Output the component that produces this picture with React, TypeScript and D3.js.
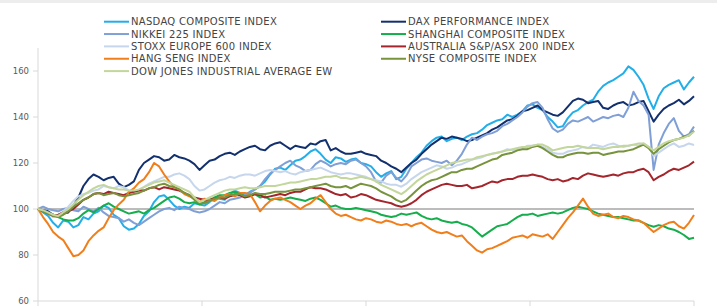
import * as d3 from "d3";

const w = 717;
const h = 307;
const left = 38;
const right = 694;
const top = 48;
const bottom = 301;

// rebased index levels (start = 100), sampled evenly across the period
const nasdaq = [100, 98.5, 97, 94, 92, 95, 94.5, 92, 93, 96.5, 95.5, 98, 99, 101.5, 100.5, 97.5, 96, 92.5, 91, 91.5, 93.5, 97, 99, 103, 105.5, 106, 104, 101.5, 100, 101, 100.5, 102.5, 102, 101.5, 103, 105, 104.5, 104, 106.5, 108, 107, 106, 107.5, 108.5, 110, 112, 115, 117.5, 118, 117, 119, 121, 121.5, 123, 125, 126, 124, 121.5, 120, 122.5, 122, 120.5, 121.5, 122, 120, 119.5, 118.5, 116, 114, 115.5, 116.5, 113, 114, 117.5, 120, 122.5, 124.5, 127.5, 129.5, 131, 131.5, 129.5, 130.5, 131, 130, 131.5, 132.5, 133, 134.5, 136.5, 137.5, 138.5, 139, 141, 140, 141, 142.5, 145, 145.5, 144, 143, 140, 138, 135.5, 136, 139.5, 142, 143, 145, 146.5, 147.5, 151, 153.5, 155, 156, 157.5, 159, 162, 160.5, 157.5, 154, 148, 143.5, 149, 152.5, 154, 155, 156, 152, 155, 157.5];
const dax = [100, 99.5, 99, 97.5, 97, 98, 98.5, 101.5, 105, 110, 113, 115, 114, 112.5, 113.5, 114, 111, 109.5, 110.5, 112, 117, 120, 121.5, 123, 122.5, 121, 121.5, 123.5, 122.5, 122, 121, 119.5, 117, 119, 121, 121.5, 123, 124, 124.5, 123.5, 125, 126, 127, 127.5, 126, 125.5, 127.5, 128.5, 129, 127.5, 126, 127.5, 127, 126.5, 128.5, 128, 129.5, 130, 125.5, 126.5, 125, 124, 124, 124.5, 125, 124, 123.5, 123, 121, 120, 118.5, 117.5, 116, 118, 120, 121.5, 124, 126, 128, 129.5, 131, 130.5, 131.5, 131, 130.5, 129.5, 130, 131, 132, 133, 134.5, 135.5, 137, 138.5, 139, 140.5, 142.5, 143, 144, 145, 143, 142, 141, 140.5, 142, 144.5, 147, 148, 147.5, 146, 146.5, 147, 144, 143.5, 145, 146, 146.5, 145, 145.5, 146.5, 147, 142.5, 138, 141, 143.5, 145, 146, 147.5, 145.5, 147, 149];
const nikkei = [100, 101, 100, 99.5, 99, 100, 100.5, 99.5, 99, 101, 100, 99, 100.5, 98.5, 97, 96.5, 96, 94.5, 95.5, 94, 93, 94.5, 96, 97.5, 99, 100, 100.5, 99.5, 101, 100.5, 100, 99, 98.5, 99, 100, 101.5, 103, 102.5, 104, 104.5, 105, 106, 107, 108.5, 110, 113, 115.5, 117, 118.5, 120, 121, 119, 118, 116.5, 117, 119.5, 121, 120, 118.5, 119.5, 120, 119.5, 121, 121.5, 120, 118.5, 116, 112, 111.5, 114.5, 116, 113.5, 112, 114.5, 118.5, 120, 121.5, 122, 121, 120.5, 120, 121, 119, 121, 124, 128, 131, 130, 131.5, 132.5, 133, 134, 136, 137, 138.5, 140, 142, 144.5, 146, 146.5, 144, 139, 135, 133.5, 134.5, 137, 138.5, 138, 139, 140, 138, 139, 140, 139.5, 140.5, 141, 140, 144, 151, 147, 145, 141, 117, 128, 133, 137, 139.5, 134, 131.5, 132.5, 135.8];
const shanghai = [100, 99, 98, 97.5, 96.5, 95.5, 95, 95, 96, 98, 99.5, 98.5, 100, 101.5, 102.5, 101, 100, 99, 98, 98.5, 99, 98, 99.5, 100.5, 102, 103.5, 105, 105.5, 104.5, 103, 102.5, 103, 102, 103, 104, 105, 106, 106, 107, 107.5, 106.5, 105.5, 106, 106.5, 105, 105.5, 104, 104.5, 104, 104.5, 105, 104.5, 104, 103.5, 104.5, 105, 104, 102.5, 101, 101.5, 100.5, 100, 100, 100.5, 100, 99.5, 99, 98.5, 97.5, 97, 96.5, 97, 98, 97.5, 98, 98.5, 97, 96, 95.5, 96, 95, 94.5, 94, 94.5, 93.5, 93, 92, 90, 88, 89.5, 91, 92.5, 93, 93.5, 95, 96.5, 97.5, 97.5, 98, 97, 97.5, 98, 98.5, 98, 98.5, 99.5, 100.5, 101, 100.5, 100, 99, 98, 97.5, 97, 96.5, 96.5, 96, 95.5, 95, 95, 94, 93, 92.3, 93, 92.5, 91.5, 91, 90, 88.7, 87, 87.5];
const stoxx = [100, 99, 98, 96.5, 97, 99, 101, 103.5, 105.5, 106.5, 107, 108, 108.5, 110, 109.5, 109, 110, 109.5, 108, 107.5, 108, 109.5, 111, 112, 113, 114, 114, 115, 115.5, 114.5, 113, 110, 108, 108.5, 110, 111.5, 112.5, 113, 114, 113.5, 114.5, 115, 115, 114.5, 115.5, 116.5, 117, 116.5, 116, 116.5, 115.5, 115, 116, 116.5, 117, 117.5, 118, 117, 116, 115.5, 115, 115.5, 115.5, 115, 114.5, 114, 113, 112.5, 112, 111, 110.5, 110.5, 109.7, 111, 113, 114.5, 116, 117, 118, 119, 118.5, 117.5, 118, 119, 119.5, 120.5, 121.5, 122, 122.5, 123.5, 124, 124.5, 125, 126, 125.5, 126, 126.5, 127.5, 127.5, 128, 127, 126, 124.5, 124, 124, 125, 125.5, 126, 127, 126.5, 128, 127.5, 127, 128, 128.5, 127.5, 127, 127.5, 128, 127.5, 128.5, 127, 123, 124.5, 126, 127.5, 128.5, 127, 127.5, 128.5, 127.8];
const australia = [100, 99, 98, 97, 97.5, 98.5, 99, 100, 102, 104, 105, 106.5, 107, 106.5, 107.5, 107, 106.5, 106, 107, 107.5, 108, 108, 109, 109.5, 108.5, 109.5, 109, 108.5, 108, 107, 106, 105, 104.5, 104, 104, 104.5, 105, 104.5, 105.5, 106, 106, 105, 105.5, 106.5, 106, 105, 105.5, 106, 106.5, 106, 107, 107.5, 107.5, 108.5, 109.5, 109, 109, 108.5, 107.5, 106.5, 106, 106.5, 105, 105.5, 106.5, 106, 105, 104, 103.5, 103, 102.5, 101.5, 101, 101.5, 102.5, 104, 106, 107.5, 108.5, 109.5, 110.5, 111, 110.5, 110, 110, 110.5, 109, 109.5, 110, 111, 112, 111.5, 112.5, 113, 113, 114, 114.5, 114.5, 115, 114.5, 114, 113, 112.5, 113, 112, 112.5, 113.5, 113, 114.5, 115.5, 115, 114.5, 114, 114.5, 115, 114.5, 115.5, 116, 116, 117, 117.5, 116, 112.5, 114, 115, 116.5, 117.5, 117, 118, 119, 120.6];
const hangSeng = [100, 96.5, 93.5, 90, 88, 86.5, 83, 79.5, 80, 82, 86, 88.5, 90.5, 92, 96, 99.5, 102, 104, 107.5, 109, 111.5, 113, 116, 120, 118.5, 115, 112, 109.5, 108.5, 106.5, 105.5, 104.5, 103, 104.5, 104, 103.5, 105, 106, 106.5, 105.5, 107, 107, 106.5, 103, 99, 101.5, 103.5, 104.5, 105, 104, 103, 101.5, 100, 101.5, 102.5, 104.5, 106, 103, 100, 98, 97, 97.5, 96.5, 95.5, 95, 96, 95.5, 94.5, 94, 95, 94.5, 93.5, 93, 93.5, 92.5, 93.5, 94, 92.5, 91, 90, 89.5, 90, 89, 88, 88.5, 86, 84, 82, 81, 82.5, 83, 84, 85, 86, 87.5, 88, 88.5, 87.5, 89, 88.5, 88, 89, 87, 90, 93, 96, 98.5, 101.5, 104.5, 101, 98, 97, 97.5, 98, 96.5, 96, 97, 96.5, 95.5, 95, 94, 92, 90, 91.5, 93, 94, 94.5, 92.5, 91.5, 94, 97.4];
const nyse = [100, 99, 98, 97, 96.5, 97.5, 99, 101, 102.5, 104, 105, 106.5, 107, 106, 106.5, 107, 106, 105.5, 106, 106.5, 107, 108, 109, 109.5, 110.5, 111, 110, 109.5, 108.5, 107, 106, 104, 102.5, 102.5, 103.5, 104.5, 105, 105, 106, 106.5, 106.5, 105.5, 106, 107, 106.5, 106.5, 107, 107.5, 107.5, 107.5, 108, 108.5, 108.5, 109, 109.5, 110, 110.5, 111, 110, 109.5, 109.5, 110, 109, 110, 111, 110.5, 110, 109, 107.5, 106.5, 105.5, 104, 103, 104, 106, 108, 110, 111.5, 112.5, 113, 114, 115, 116, 116, 117, 117.5, 117.5, 118.5, 119.5, 120.5, 121.5, 122, 123.5, 124, 124.5, 125.5, 126, 126, 127, 127.5, 126.5, 125, 123.5, 122.5, 122.5, 123.5, 124, 124.5, 124.5, 124, 124.5, 124.5, 123.5, 124, 124.5, 125, 125, 125.5, 126, 127, 128, 126.5, 124, 126, 127.5, 129, 130, 130.5, 131.5, 132, 134];
const dowEw = [100, 99.5, 98.5, 97.5, 97, 98.5, 100, 102, 104, 106, 107.5, 109, 110, 110.5, 109.5, 109, 108.5, 108.5, 108, 108, 108.5, 109.5, 110.5, 111.5, 112, 112.5, 111.5, 110.5, 109.5, 108.5, 107.5, 105, 103, 104, 105, 106, 107, 108, 108.5, 108.5, 109, 109.5, 109, 109, 109.5, 110, 110, 110, 110.5, 111, 111.5, 111.5, 112, 112.5, 113, 113, 113.5, 114, 114, 114.5, 113.5, 113.5, 113, 113.5, 114, 113.5, 113, 112, 110.5, 109.5, 108.5, 107.5, 106.5, 108, 110, 112, 113.5, 115, 116, 117, 118, 119, 120, 120.5, 121, 121.5, 121.5, 122.5, 123, 123.5, 124, 124.5, 125, 125.5, 126, 126.5, 127, 127, 127.5, 128, 128, 127, 125.5, 126, 126.5, 127, 127, 127.5, 127, 126.5, 126.5, 126.5, 126, 126.5, 127, 127, 127.5, 127.5, 128, 128.5, 128.5, 127, 125.5, 127, 128.5, 129.5, 130, 130.5, 131, 132, 133.6];

const names = ["NASDAQ COMPOSITE INDEX", "DAX PERFORMANCE INDEX", "NIKKEI 225 INDEX", "SHANGHAI COMPOSITE INDEX", "STOXX EUROPE 600 INDEX", "AUSTRALIA S&P/ASX 200 INDEX", "HANG SENG INDEX", "NYSE COMPOSITE INDEX", "DOW JONES INDUSTRIAL AVERAGE EW"];
const colors = ["#22aee8", "#13306e", "#7f9fd6", "#16ad4c", "#c6d6ec", "#a4262c", "#f07f1b", "#77933c", "#c3d69b"];
const seriesValues = [nasdaq, dax, nikkei, shanghai, stoxx, australia, hangSeng, nyse, dowEw];
const yTicks = [60, 80, 100, 120, 140, 160];
const xTicks = [0, 0.25, 0.5, 0.75, 1];

const x = d3.scaleLinear().domain([0, 1]).range([left, right]);
const y = d3.scaleLinear().domain([60, 170]).range([bottom, top]);
const lineFor = (len: number) =>
  d3
    .line<number>()
    .x((_, i) => x(i / (len - 1)))
    .y((d) => y(d));

const font = "'DejaVu Sans', Verdana, sans-serif";

function App() {
  return (
    <svg width={w} height={h} style={{ position: "absolute", left: 0, top: 0, background: "#fff" }}>
      <rect x={0} y={0} width={w} height={3} fill="#ededed" />

      {/* legend: two columns, row-wise order */}
      {names.map((name, i) => {
        const col = i % 2;
        const row = Math.floor(i / 2);
        const lx = col === 0 ? 104 : 381;
        const ly = 21.7 + row * 12.35;
        return (
          <g key={name}>
            <line x1={lx} x2={lx + 25} y1={ly} y2={ly} stroke={colors[i]} strokeWidth={2} />
            <text
              x={lx + 27}
              y={ly + 3.6}
              fontFamily={font}
              fontSize={10}
              letterSpacing={0.3}
              fill="#444"
            >
              {name}
            </text>
          </g>
        );
      })}

      {/* axes */}
      <line x1={left} x2={left} y1={top} y2={bottom} stroke="#d9d9d9" strokeWidth={1} />
      <line x1={left} x2={right} y1={bottom} y2={bottom} stroke="#d9d9d9" strokeWidth={1} />
      {yTicks.map((t) => (
        <g key={t}>
          <line x1={left - 5} x2={left} y1={y(t)} y2={y(t)} stroke="#d9d9d9" />
          <text
            x={29}
            y={y(t) + 3}
            textAnchor="end"
            fontFamily={font}
            fontSize={8.5}
            fill="#595959"
          >
            {t}
          </text>
        </g>
      ))}
      {xTicks.map((f) => (
        <line key={f} x1={x(f)} x2={x(f)} y1={bottom} y2={bottom + 5} stroke="#d9d9d9" />
      ))}

      <line x1={left} x2={right} y1={y(100)} y2={y(100)} stroke="#a6a6a6" strokeWidth={1.6} />

      {seriesValues.map((vals, i) => (
        <path
          key={names[i]}
          d={lineFor(vals.length)(vals) || ""}
          fill="none"
          stroke={colors[i]}
          strokeWidth={2}
          strokeLinejoin="round"
        />
      ))}
    </svg>
  );
}

export default App;
